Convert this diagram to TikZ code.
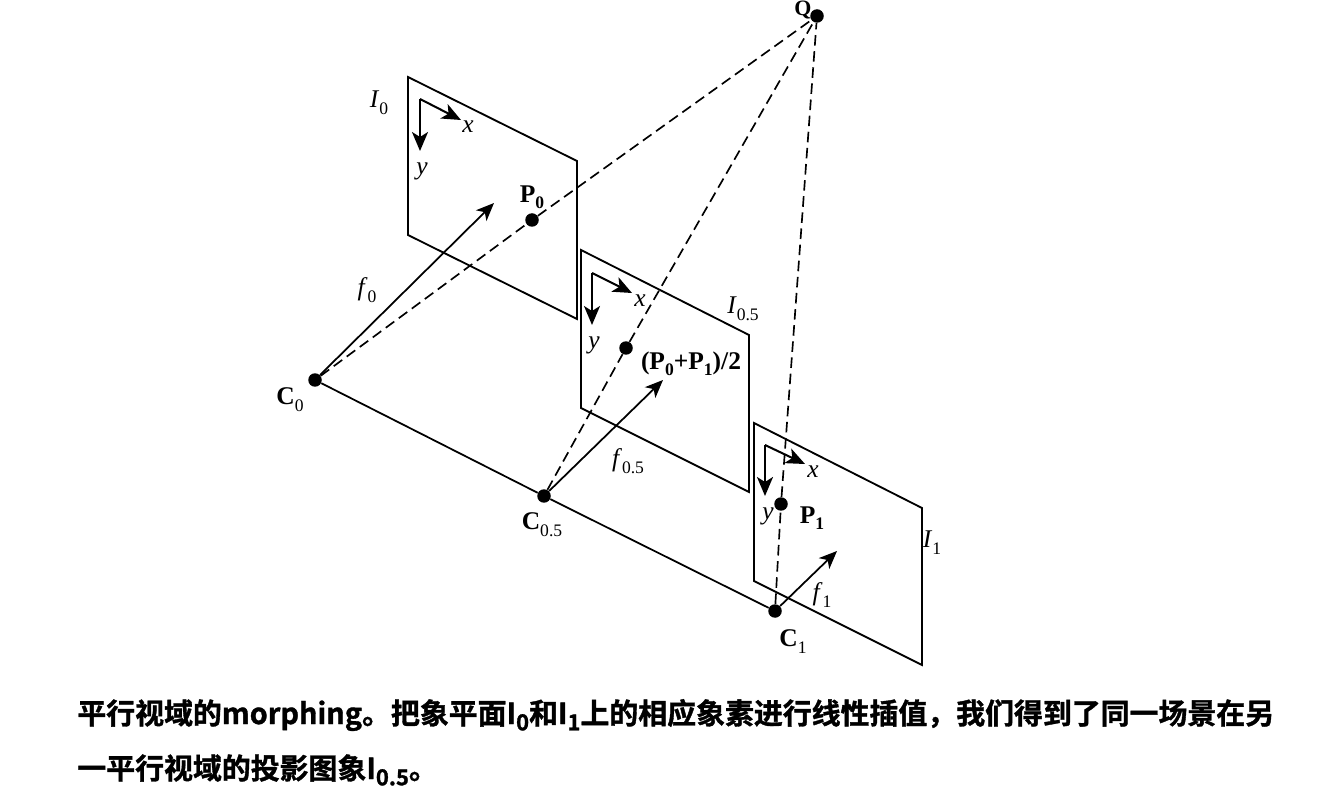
\documentclass[tikz,border=0pt]{standalone}
\usepackage{fontspec}
\setmainfont{Liberation Serif}
\newfontfamily\capfont[FakeBold=1.2]{Noto Sans CJK SC Bold}
\usetikzlibrary{arrows.meta, positioning}
\newcommand{\lowtext}[1]{\raisebox{-0.6ex}{\fontsize{10}{10}\selectfont #1}}
\newcommand{\lowbold}[1]{\raisebox{-0.55ex}{\fontsize{10}{10}\selectfont\bfseries #1}}
\newcommand{\capsub}[1]{\raisebox{-0.4ex}{\fontsize{12.5}{12.5}\selectfont #1}}
\tikzset{
    planeline/.style={draw=black, line width=1.05pt, line join=miter},
    baseline/.style={draw=black, line width=1pt},
    rayline/.style={draw=black, line width=0.95pt, dash pattern=on 6pt off 3.2pt},
    focalarrow/.style={-{Stealth[length=3.6mm, width=3mm, inset=1mm]}, line width=1pt},
    axisarrow/.style={-{Stealth[length=3.8mm, width=3.2mm, inset=1mm]}, line width=1.15pt},
    dotmark/.style={circle, fill=black, inner sep=0pt, minimum size=0.27cm},
    imglabel/.style={inner sep=0pt, font=\fontsize{14.5}{14.5}\selectfont},
    caption/.style={inner sep=0pt, anchor=base west, font=\capfont\fontsize{16.45}{16.45}\selectfont},
}
\begin{document}
\begin{tikzpicture}[x=0.02cm, y=-0.02cm]
    \useasboundingbox (0,0) rectangle (1332,790);
    % image planes
    \draw[planeline] (408,77) -- (577,161) -- (577,319) -- (408,235) -- cycle;
    \draw[planeline] (581,250) -- (749,335) -- (749,492) -- (581,408) -- cycle;
    \draw[planeline] (754,423) -- (922,508) -- (922,665) -- (754,581) -- cycle;
    % points
    \node[dotmark] (Q) at (817,16) {};
    \node[dotmark] (P0) at (532,220) {};
    \node[dotmark] (Pm) at (626,348) {};
    \node[dotmark] (P1) at (781,504) {};
    \node[dotmark] (C0) at (315,380) {};
    \node[dotmark] (Cm) at (544,496) {};
    \node[dotmark] (C1) at (775,611) {};
    % rays and base line
    \draw[baseline] (C0) -- (Cm);
    \draw[baseline] (Cm) -- (C1);
    \draw[rayline] (C0) -- (P0);
    \draw[rayline] (P0) -- (Q);
    \draw[rayline] (Cm) -- (Pm);
    \draw[rayline] (Pm) -- (Q);
    \draw[rayline] (C1) -- (P1);
    \draw[rayline] (P1) -- (Q);
    % focal vectors
    \coordinate (f0end) at (494,203);
    \coordinate (fmend) at (663,380);
    \coordinate (f1end) at (837,551);
    \draw[focalarrow] (C0) -- (f0end);
    \draw[focalarrow] (Cm) -- (fmend);
    \draw[focalarrow] (C1) -- (f1end);
    % axes
    \coordinate (o0) at (420,99);
    \coordinate (x0) at (461,120);
    \coordinate (y0) at (420,151);
    \coordinate (om) at (592,273);
    \coordinate (xm) at (632,293);
    \coordinate (ym) at (592,325);
    \coordinate (o1) at (765,445);
    \coordinate (x1) at (805,464);
    \coordinate (y1) at (765,496);
    \draw[axisarrow] (o0) -- (x0);
    \draw[axisarrow] (o0) -- (y0);
    \draw[axisarrow] (om) -- (xm);
    \draw[axisarrow] (om) -- (ym);
    \draw[axisarrow] (o1) -- (x1);
    \draw[axisarrow] (o1) -- (y1);
    % labels
    \node[imglabel, font=\fontsize{12.5}{12.5}\selectfont] (labQ) at (803,10) {\textbf{Q}};
    \node[imglabel] (labI0) at (379,103) {\textit{I}\lowtext{0}};
    \node[imglabel] (labIm) at (743,309) {\textit{I}\lowtext{0.5}};
    \node[imglabel] (labI1) at (932,543) {\textit{I}\lowtext{1}};
    \node[imglabel] (labx0) at (468,127) {\textit{x}};
    \node[imglabel] (laby0) at (422,171) {\textit{y}};
    \node[imglabel] (labxm) at (640,301) {\textit{x}};
    \node[imglabel] (labym) at (594,345) {\textit{y}};
    \node[imglabel] (labx1) at (813,472) {\textit{x}};
    \node[imglabel] (laby1) at (768,516) {\textit{y}};
    \node[imglabel] (labP0) at (532,197) {\textbf{P}\lowbold{0}};
    \node[imglabel] (labPm) at (691,364) {\textbf{(P\lowbold{0}+P\lowbold{1})/2}};
    \node[imglabel] (labP1) at (812,518) {\textbf{P}\lowbold{1}};
    \node[imglabel] (labf0) at (367,290) {\textit{f}\lowtext{0}};
    \node[imglabel] (labfm) at (628,461) {\textit{f}\lowtext{0.5}};
    \node[imglabel] (labf1) at (822,595) {\textit{f}\lowtext{1}};
    \node[imglabel] (labC0) at (290,400) {\textbf{C}\lowtext{0}};
    \node[imglabel] (labCm) at (542,525) {\textbf{C}\lowtext{0.5}};
    \node[imglabel] (labC1) at (793,642) {\textbf{C}\lowtext{1}};
    % caption
    \node[caption] (capa) at (77,724) {平行视域的morphing。把象平面I\capsub{0}和I\capsub{1}上的相应象素进行线性插值，我们得到了同一场景在另};
    \node[caption] (capb) at (77,779) {一平行视域的投影图象I\capsub{0.5}。};
\end{tikzpicture}
\end{document}
